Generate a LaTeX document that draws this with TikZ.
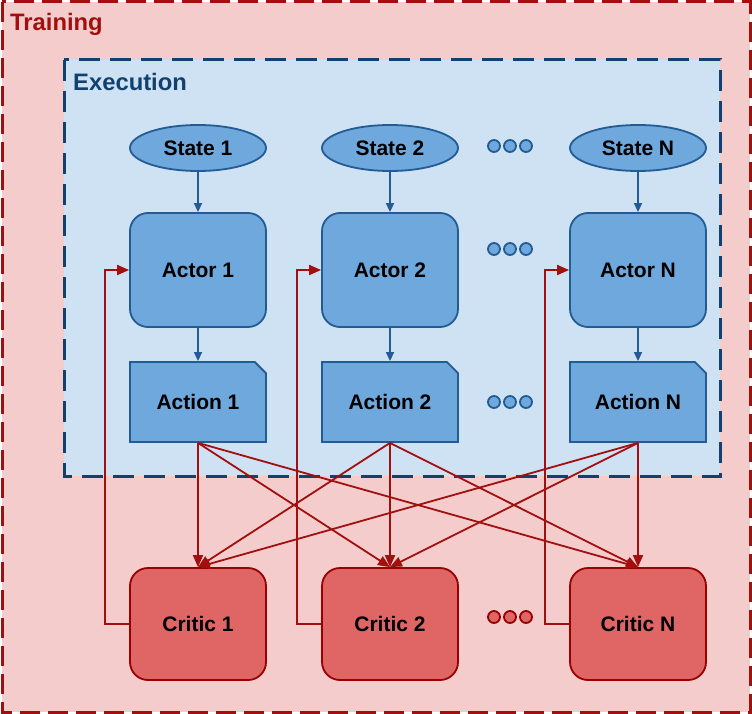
\documentclass[tikz,border=0pt]{standalone}
\usepackage{fontspec}
\setmainfont{Liberation Sans}
\usetikzlibrary{shapes.geometric,shapes.misc,arrows.meta}

\definecolor{trainfill}{HTML}{F4CCCC}
\definecolor{trainline}{HTML}{A20F0F}
\definecolor{execfill}{HTML}{CFE2F3}
\definecolor{execline}{HTML}{11416F}
\definecolor{bluefill}{HTML}{6FA8DC}
\definecolor{blueline}{HTML}{235C94}
\definecolor{redfill}{HTML}{E06666}
\definecolor{redline}{HTML}{990000}

\tikzset{
	every picture/.append style={font=\bfseries\fontsize{21}{24}\selectfont},
	statenode/.style = {ellipse, draw=blueline, fill=bluefill, line width=1.8pt, minimum width=136pt, minimum height=46pt, inner sep=0pt},
	actornode/.style = {rectangle, rounded corners=18pt, draw=blueline, fill=bluefill, line width=1.8pt, minimum width=136pt, minimum height=114pt},
	actionnode/.style = {chamfered rectangle, chamfered rectangle corners=north east, chamfered rectangle xsep=12pt, draw=blueline, fill=bluefill, line width=1.8pt, minimum width=136pt, minimum height=80pt, inner sep=0pt},
	criticnode/.style = {rectangle, rounded corners=18pt, draw=redline, fill=redfill, line width=1.8pt, minimum width=136pt, minimum height=112pt},
	bluedot/.style = {circle, draw=blueline, fill=bluefill, line width=1.8pt, minimum size=12pt, inner sep=0pt},
	reddot/.style = {circle, draw=redline, fill=redfill, line width=1.8pt, minimum size=12pt, inner sep=0pt},
	blueedge/.style = {draw=blueline, line width=1.6pt, -{Triangle[length=9pt,width=8pt]}},
	rededge/.style = {draw=trainline, line width=1.8pt, -{Triangle[length=12pt,width=10pt]}},
	frametitle/.style = {anchor=base west, inner sep=0pt, font=\bfseries\fontsize{23.8}{28}\selectfont}
}

\begin{document}
\begin{tikzpicture}[x=1pt,y=-1pt]
	\useasboundingbox (0,0) rectangle (752,714);
	% frames
	\draw[trainline, fill=trainfill, line width=3pt, dash pattern=on 20pt off 8pt] (2,2) rectangle (750,712);
	\node[frametitle, text=trainline] (train) at (10,31) {Training};
	\draw[execline, fill=execfill, line width=3pt, dash pattern=on 21pt off 10pt] (64,60) rectangle (720,476);
	\node[frametitle, text=execline] (exec) at (73,91) {Execution};

	\node[statenode] at (198,148) (s1) {State 1};
	\node[statenode] at (390,148) (s2) {State 2};
	\node[statenode] at (638,148) (sN) {State N};
	\node[actornode] at (198,270) (a1) {Actor 1};
	\node[actornode] at (390,270) (a2) {Actor 2};
	\node[actornode] at (638,270) (aN) {Actor N};
	\node[actionnode] at (198,402) (p1) {Action 1};
	\node[actionnode] at (390,402) (p2) {Action 2};
	\node[actionnode] at (638,402) (pN) {Action N};
	\node[criticnode] at (198,624) (c1) {Critic 1};
	\node[criticnode] at (390,624) (c2) {Critic 2};
	\node[criticnode] at (638,624) (cN) {Critic N};

	% dots
	\node[bluedot] at (494,146) (d11) {};
	\node[bluedot] at (510,146) (d12) {};
	\node[bluedot] at (526,146) (d13) {};
	\node[bluedot] at (494,249) (d21) {};
	\node[bluedot] at (510,249) (d22) {};
	\node[bluedot] at (526,249) (d23) {};
	\node[bluedot] at (494,402) (d31) {};
	\node[bluedot] at (510,402) (d32) {};
	\node[bluedot] at (526,402) (d33) {};
	\node[reddot] at (494,617) (d41) {};
	\node[reddot] at (510,617) (d42) {};
	\node[reddot] at (526,617) (d43) {};

	\path (s1) edge [blueedge] (a1);
	\path (s2) edge [blueedge] (a2);
	\path (sN) edge [blueedge] (aN);
	\path (a1) edge [blueedge] (p1);
	\path (a2) edge [blueedge] (p2);
	\path (aN) edge [blueedge] (pN);

	\path (p1.south) edge [rededge] (c1.north);
	\path (p1.south) edge [rededge] (c2.north);
	\path (p1.south) edge [rededge] (cN.north);
	\path (p2.south) edge [rededge] (c1.north);
	\path (p2.south) edge [rededge] (c2.north);
	\path (p2.south) edge [rededge] (cN.north);
	\path (pN.south) edge [rededge] (c1.north);
	\path (pN.south) edge [rededge] (c2.north);
	\path (pN.south) edge [rededge] (cN.north);

	% critic feedback
	\draw[rededge] (c1.west) -- ++(-24,0) |- (a1.west);
	\draw[rededge] (c2.west) -- ++(-24,0) |- (a2.west);
	\draw[rededge] (cN.west) -- ++(-24,0) |- (aN.west);
\end{tikzpicture}
\end{document}
